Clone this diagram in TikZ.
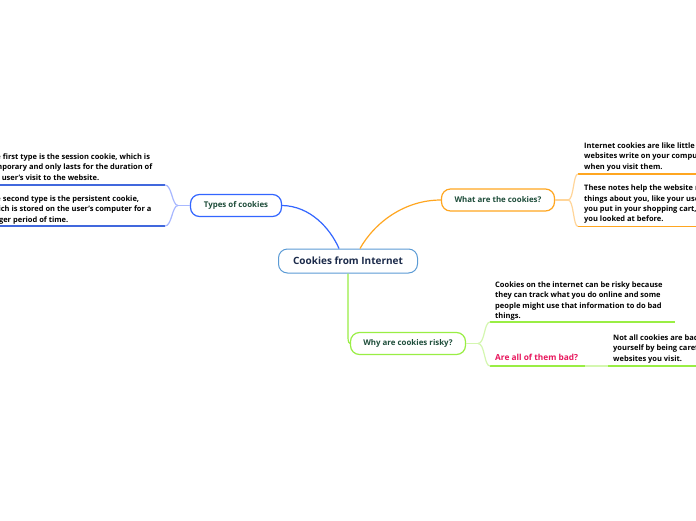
\documentclass[tikz,border=0pt]{standalone}
\usepackage{fontspec}
\setmainfont{Open Sans}
\definecolor{cenb}{HTML}{5B9BD5}
\definecolor{centx}{HTML}{1B2A4A}
\definecolor{topictx}{HTML}{1E4D3A}
\definecolor{bluec}{HTML}{3366FF}
\definecolor{bluel}{HTML}{A8B8FF}
\definecolor{orangec}{HTML}{FFA620}
\definecolor{orangel}{HTML}{FFD599}
\definecolor{greenc}{HTML}{99EE44}
\definecolor{greenl}{HTML}{D4F7B0}
\definecolor{pinktx}{HTML}{E8175D}
\tikzset{
  central/.style={draw=cenb, line width=1pt, rounded corners=9pt, fill=white,
    minimum width=139pt, minimum height=24pt, inner sep=0pt,
    font=\fontsize{10}{11}\selectfont\bfseries, text=centx},
  topic/.style={line width=1.2pt, rounded corners=9pt, fill=white,
    minimum height=22pt, inner sep=0pt,
    font=\fontsize{7.9}{9}\selectfont\bfseries, text=topictx},
  body/.style={anchor=north west, inner sep=0pt, align=left,
    font=\fontsize{7.5}{10.3}\selectfont\bfseries, text=black},
  uline/.style={line width=1.8pt},
  conn/.style={line width=1.2pt},
}
\begin{document}
\begin{tikzpicture}[x=1pt,y=-1pt]
\clip (0,0) rectangle (696,520);
\fill[white] (0,0) rectangle (696,520);

% central
\node[central] (c) at (348,261) {Cookies from Internet};

% topics
\node[topic, draw=bluec, minimum width=91pt] (t) at (236,205.5) {Types of cookies};
\node[topic, draw=orangec, minimum width=113pt] (w) at (498,200) {What are the cookies?};
\node[topic, draw=greenc, minimum width=115pt] (r) at (408,343.5) {Why are cookies risky?};

% main connectors
\draw[conn, bluec] (t.east) .. controls (310,206) and (330,228) .. ([xshift=-9pt]c.north);
\draw[conn, orangec] ([xshift=12pt]c.north) .. controls (375,222) and (405,200) .. (w.west);
\draw[conn, greenc] (c.south) -- (348,337) .. controls (348,342) and (349,343.5) .. (r.west);

% left texts
\node[body] (tl1) at (-13,153.5) {The first type is the session cookie, which is\\temporary and only lasts for the duration of\\the user's visit to the website.};
\node[body] (tl2) at (-13,195.5) {The second type is the persistent cookie,\\which is stored on the user's computer for a\\longer period of time.};
\coordinate (tl1e) at (165,185);
\coordinate (tl2e) at (165,226);
\coordinate (tlj) at (178,205.5);
\draw[uline, bluec!85!black!90] (-5,185) -- (tl1e);
\draw[uline, bluec!85!black!90] (-5,226) -- (tl2e);
\draw[conn, bluel] (t.west) -- (tlj);
\draw[conn, bluel] (tlj) .. controls (172,205.5) and (172,185) .. (tl1e);
\draw[conn, bluel] (tlj) .. controls (172,205.5) and (172,226) .. (tl2e);

% right texts (orange)
\node[body] (wr1) at (584,142.5) {Internet cookies are like little notes that\\websites write on your computer\\when you visit them.};
\node[body] (wr2) at (584,185) {These notes help the website remember\\things about you, like your username, what\\you put in your shopping cart, or what\\you looked at before.};
\coordinate (wr1s) at (578,174);
\coordinate (wr2s) at (578,226.5);
\coordinate (wrj) at (568,200);
\draw[uline, orangec] (wr1s) -- (700,174);
\draw[uline, orangec] (wr2s) -- (700,226.5);
\draw[conn, orangel] (w.east) -- (wrj);
\draw[conn, orangel] (wrj) .. controls (574,200) and (573,174) .. (wr1s);
\draw[conn, orangel] (wrj) .. controls (574,200) and (573,226.5) .. (wr2s);

% right texts (green)
\node[body] (rr1) at (495,281.5) {Cookies on the internet can be risky because\\they can track what you do online and some\\people might use that information to do bad\\things.};
\node[anchor=base west, inner sep=0pt, font=\fontsize{8.3}{10}\selectfont\bfseries, text=pinktx] (rb) at (495,360) {Are all of them bad?};
\node[body] (rb1) at (613,334.5) {Not all cookies are bad, but you can protect\\yourself by being careful about the\\websites you visit.};
\coordinate (rr1s) at (490,322);
\coordinate (rbs) at (490,366);
\coordinate (rbe) at (585,366);
\coordinate (rb1s) at (608,366);
\coordinate (rj) at (478,343.5);
\draw[uline, greenc] (rr1s) -- (675,322);
\draw[uline, greenc] (rbs) -- (rbe);
\draw[uline, greenc] (rb1s) -- (700,366);
\draw[uline, greenl] (rbe) -- (rb1s);
\draw[conn, greenl] (r.east) -- (rj);
\draw[conn, greenl] (rj) .. controls (485,343.5) and (484,322) .. (rr1s);
\draw[conn, greenl] (rj) .. controls (485,343.5) and (484,366) .. (rbs);
\end{tikzpicture}
\end{document}
